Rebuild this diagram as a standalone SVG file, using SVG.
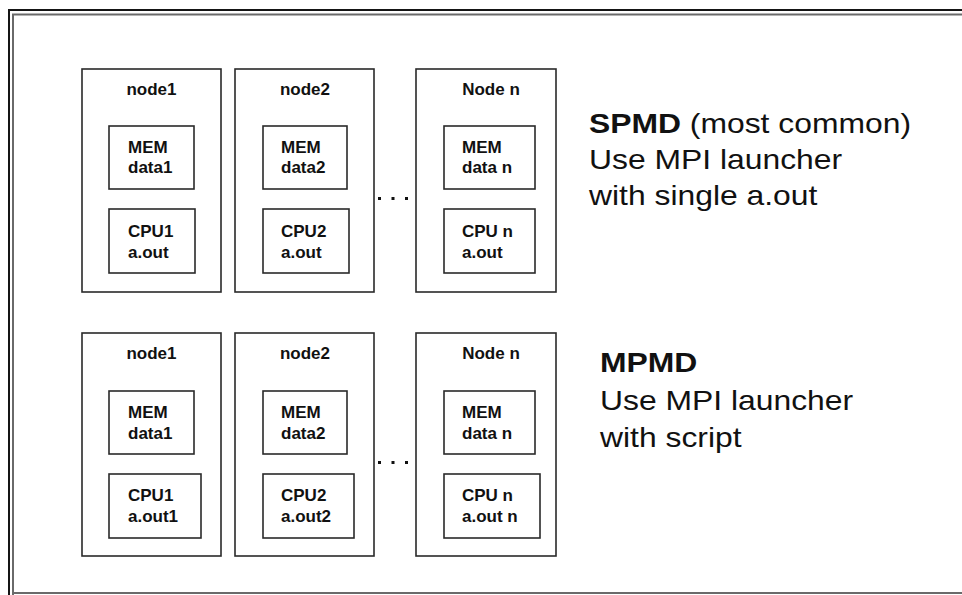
<svg xmlns="http://www.w3.org/2000/svg" width="962" height="595" viewBox="0 0 962 595">
  <style>
    .frame-outer { fill: none; stroke: #151515; stroke-width: 2; }
    .frame-inner { fill: none; stroke: #6a6a6a; stroke-width: 2; }
    .box { fill: #ffffff; stroke: #2a2a2a; stroke-width: 1.6; }
    .lbl { font-family: "Liberation Sans", Arial, sans-serif; font-weight: bold; font-size: 17px; fill: #111; }
    .title { text-anchor: middle; }
    .note { font-family: "Liberation Sans", Arial, sans-serif; font-size: 27px; fill: #111; }
    .bold { font-weight: bold; }
    .dot { fill: #111; }
  </style>
  <rect width="962" height="595" fill="#ffffff"/>

  <!-- double frame around the whole figure -->
  <path class="frame-outer" d="M9 600 V10 H970"/>
  <path class="frame-inner" d="M13 600 V14.5 H970"/>
  <path class="frame-inner" d="M13 593 H970"/>

  <!-- SPMD row -->
  <g id="spmd-node1">
    <rect class="box" x="82" y="69" width="139" height="223"/>
    <text class="lbl title" x="151.5" y="95">node1</text>
    <rect class="box" x="109" y="126" width="85" height="63"/>
    <text class="lbl" x="128" y="153">MEM</text>
    <text class="lbl" x="128" y="173">data1</text>
    <rect class="box" x="109" y="209" width="86" height="64"/>
    <text class="lbl" x="128" y="237">CPU1</text>
    <text class="lbl" x="128" y="258">a.out</text>
  </g>
  <g id="spmd-node2">
    <rect class="box" x="235" y="69" width="139" height="223"/>
    <text class="lbl title" x="305" y="95">node2</text>
    <rect class="box" x="263" y="126" width="84" height="63"/>
    <text class="lbl" x="281" y="153">MEM</text>
    <text class="lbl" x="281" y="173">data2</text>
    <rect class="box" x="263" y="209" width="86" height="64"/>
    <text class="lbl" x="281" y="237">CPU2</text>
    <text class="lbl" x="281" y="258">a.out</text>
  </g>
  <g id="spmd-dots">
    <rect class="dot" x="378" y="197" width="3" height="3"/>
    <rect class="dot" x="391.5" y="197" width="3" height="3"/>
    <rect class="dot" x="405" y="197" width="3" height="3"/>
  </g>
  <g id="spmd-noden">
    <rect class="box" x="416" y="69" width="140" height="223"/>
    <text class="lbl title" x="491" y="95">Node n</text>
    <rect class="box" x="444" y="126" width="91" height="63"/>
    <text class="lbl" x="462" y="153">MEM</text>
    <text class="lbl" x="462" y="173">data n</text>
    <rect class="box" x="444" y="209" width="91" height="64"/>
    <text class="lbl" x="462" y="237">CPU n</text>
    <text class="lbl" x="462" y="258">a.out</text>
  </g>
  <!-- caption text is set a little wide -->
  <g id="spmd-note" transform="matrix(1.18 0 0 1 589 0)">
    <text class="note" x="0" y="133"><tspan class="bold">SPMD</tspan> (most common)</text>
    <text class="note" x="0" y="169">Use MPI launcher</text>
    <text class="note" x="0" y="205">with single a.out</text>
  </g>

  <!-- MPMD row -->
  <g id="mpmd-node1">
    <rect class="box" x="82" y="333" width="139" height="223"/>
    <text class="lbl title" x="151.5" y="359">node1</text>
    <rect class="box" x="109" y="391" width="85" height="63"/>
    <text class="lbl" x="128" y="418">MEM</text>
    <text class="lbl" x="128" y="439">data1</text>
    <rect class="box" x="109" y="474" width="92" height="64"/>
    <text class="lbl" x="128" y="501">CPU1</text>
    <text class="lbl" x="128" y="522">a.out1</text>
  </g>
  <g id="mpmd-node2">
    <rect class="box" x="235" y="333" width="139" height="223"/>
    <text class="lbl title" x="305" y="359">node2</text>
    <rect class="box" x="263" y="391" width="84" height="63"/>
    <text class="lbl" x="281" y="418">MEM</text>
    <text class="lbl" x="281" y="439">data2</text>
    <rect class="box" x="263" y="474" width="91" height="64"/>
    <text class="lbl" x="281" y="501">CPU2</text>
    <text class="lbl" x="281" y="522">a.out2</text>
  </g>
  <g id="mpmd-dots">
    <rect class="dot" x="378" y="461" width="3" height="3"/>
    <rect class="dot" x="391.5" y="461" width="3" height="3"/>
    <rect class="dot" x="405" y="461" width="3" height="3"/>
  </g>
  <g id="mpmd-noden">
    <rect class="box" x="416" y="333" width="140" height="223"/>
    <text class="lbl title" x="491" y="359">Node n</text>
    <rect class="box" x="444" y="391" width="91" height="63"/>
    <text class="lbl" x="462" y="418">MEM</text>
    <text class="lbl" x="462" y="439">data n</text>
    <rect class="box" x="444" y="474" width="96" height="64"/>
    <text class="lbl" x="462" y="501">CPU n</text>
    <text class="lbl" x="462" y="522">a.out n</text>
  </g>
  <g id="mpmd-note" transform="matrix(1.18 0 0 1 600 0)">
    <text class="note bold" x="0" y="372">MPMD</text>
    <text class="note" x="0" y="410">Use MPI launcher</text>
    <text class="note" x="0" y="447">with script</text>
  </g>
</svg>
